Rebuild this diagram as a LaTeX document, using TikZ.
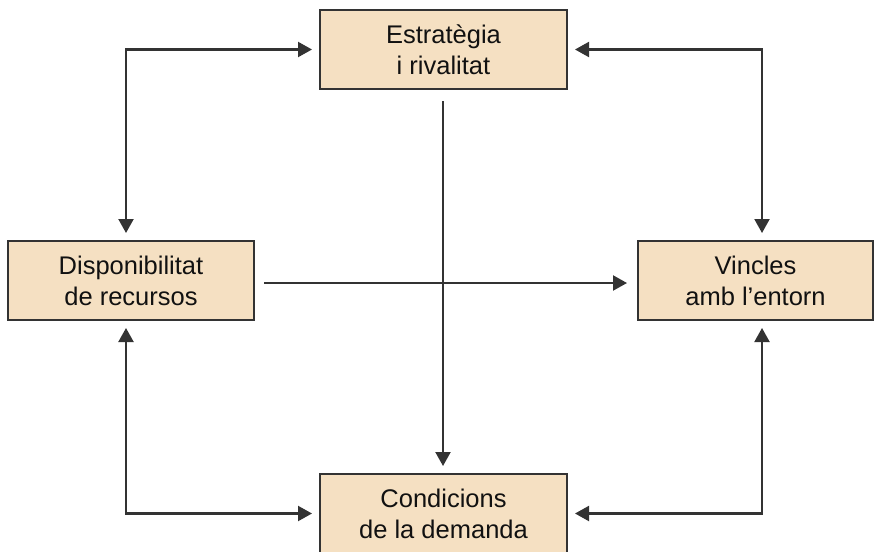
\documentclass[tikz,border=0pt]{standalone}
\usepackage{fontspec}
\setmainfont{Liberation Sans}
\usetikzlibrary{arrows.meta}
\definecolor{boxfill}{HTML}{F5E0C2}
\definecolor{edge}{HTML}{333333}
\definecolor{ink}{HTML}{111111}
\begin{document}
\begin{tikzpicture}[x=1pt,y=-1pt,
  box/.style={draw=edge, line width=2pt, fill=boxfill, minimum height=79pt,
    inner sep=0pt, align=center, text=ink,
    font=\fontsize{25.5}{31}\selectfont},
  link/.style={draw=edge, line width=2.1pt,
    {Triangle[length=14pt,width=15pt]}-{Triangle[length=14pt,width=15pt]},
    shorten <=7pt, shorten >=7pt},
  oneway/.style={draw=edge, line width=2.1pt, -{Triangle[length=14pt,width=15pt]}}
]
\useasboundingbox (0,0) rectangle (874,551);
\node[box, minimum width=247pt] (T) at (443.5,49.5) {Estratègia\\i rivalitat};
\node[box, minimum width=246pt] (L) at (131,280.5) {Disponibilitat\\de recursos};
\node[box, minimum width=235pt] (R) at (755.5,280.5) {Vincles\\amb l’entorn};
\node[box, minimum width=247pt] (B) at (443.5,513.5) {Condicions\\de la demanda};

\draw[link] ([xshift=-5pt]L.north) |- (T.west);
\draw[link] (T.east) -| ([xshift=6.5pt]R.north);
\draw[link] ([xshift=-5pt]L.south) |- (B.west);
\draw[link] ([xshift=6.5pt]R.south) |- (B.east);
\draw[oneway, shorten <=11pt, shorten >=7pt] ([xshift=-0.5pt]T.south) -- ([xshift=-0.5pt]B.north);
\draw[oneway, shorten <=9pt, shorten >=10pt] ([yshift=-2.5pt]L.east) -- ([yshift=-2.5pt]R.west);
\end{tikzpicture}
\end{document}
